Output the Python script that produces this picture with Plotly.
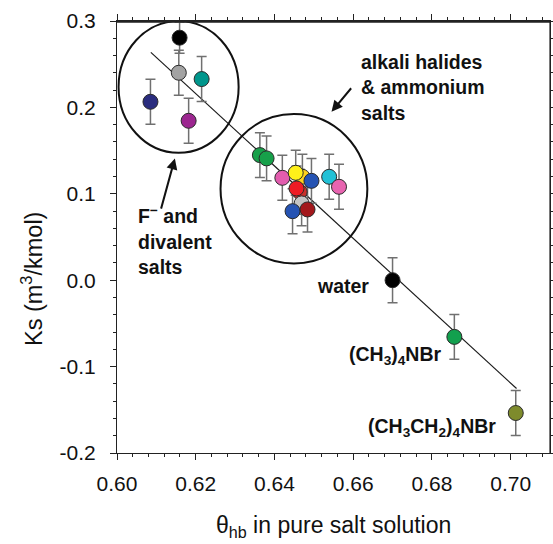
import plotly.graph_objects as go

# ---- data ----
# theta_hb in pure salt solution, Ks (m3/kmol), error
pt_x = [0.6159, 0.6157, 0.6215, 0.6085, 0.6182,
        0.6363, 0.6380, 0.6420, 0.6471, 0.6454, 0.6494, 0.6464, 0.6456,
        0.6469, 0.6446, 0.6484, 0.6539, 0.6564,
        0.6700, 0.6857, 0.7013]
pt_y = [0.2807, 0.2401, 0.2328, 0.2065, 0.1845,
        0.1448, 0.1410, 0.1185, 0.1197, 0.1243, 0.1150, 0.1023, 0.1062,
        0.0889, 0.0799, 0.0819, 0.1197, 0.1081,
        0.0000, -0.0656, -0.1537]
pt_err = [0.018, 0.026, 0.026, 0.026, 0.026,
          0.026, 0.026, 0.026, 0.026, 0.026, 0.026, 0.026, 0.026,
          0.026, 0.026, 0.026, 0.026, 0.026,
          0.026, 0.026, 0.026]
pt_colors = ["#000000", "#a3a3a3", "#00968c", "#2a2c7e", "#9c2690",
             "#17a04a", "#17a04a", "#e25cae", "#ffd21e", "#fff01a", "#2553b3", "#c8302a", "#ee1c24",
             "#c4c4c4", "#2553b3", "#a3181c", "#22c1d6", "#e864b0",
             "#000000", "#12a04e", "#7e8b2c"]

fit_x = [0.6086, 0.7015]
fit_y = [0.2637, -0.1254]

# group ellipses (x0, x1, y0, y1)
group1_box = [0.6004, 0.6309, 0.1475, 0.3000]
group2_box = [0.6263, 0.6636, 0.0194, 0.1923]

x_ticks = [0.60, 0.62, 0.64, 0.66, 0.68, 0.70]
x_tick_text = ["0.60", "0.62", "0.64", "0.66", "0.68", "0.70"]
y_ticks = [-0.2, -0.1, 0.0, 0.1, 0.2, 0.3]
y_tick_text = ["-0.2", "-0.1", "0.0", "0.1", "0.2", "0.3"]

FONT = "Liberation Sans, Arial, sans-serif"
X_RANGE = [0.60, 0.71]
Y_RANGE = [-0.2, 0.3]

fig = go.Figure()

fig.add_trace(go.Scatter(
    x=fit_x, y=fit_y, mode="lines",
    line=dict(color="#1a1a1a", width=1.2),
    hoverinfo="skip", showlegend=False))

fig.add_trace(go.Scatter(
    x=pt_x, y=pt_y, mode="markers",
    marker=dict(size=15, color=pt_colors, line=dict(color="#2a2a2a", width=1)),
    error_y=dict(type="data", array=pt_err, color="#707070", thickness=1.5, width=5),
    showlegend=False))

for box in (group1_box, group2_box):
    fig.add_shape(type="circle", xref="x", yref="y",
                  x0=box[0], x1=box[1], y0=box[2], y1=box[3],
                  line=dict(color="#111111", width=2))

# plot frame: top edge drawn in data units just inside the plot area
fig.add_shape(type="line", xref="x", yref="y", x0=X_RANGE[0], x1=X_RANGE[1],
              y0=Y_RANGE[1] - 0.001, y1=Y_RANGE[1] - 0.001,
              line=dict(color="#222222", width=1.6), layer="above")
fig.add_shape(type="line", xref="paper", yref="paper", x0=1, x1=1, y0=0, y1=1,
              line=dict(color="#222222", width=1.2), layer="above")

bold = dict(family=FONT, size=19.5, color="#111111")

fig.add_annotation(x=0.6616, y=0.2228, xref="x", yref="y",
                   text="<b>alkali halides<br>&amp; ammonium<br>salts</b>",
                   showarrow=False, xanchor="left", yanchor="middle", align="left", font=bold)
fig.add_annotation(x=0.6545, y=0.1950, ax=0.6598, ay=0.2239,
                   xref="x", yref="y", axref="x", ayref="y",
                   text="", showarrow=True, arrowhead=2, arrowsize=1.1,
                   arrowwidth=2, arrowcolor="#111111")

fig.add_annotation(x=0.6049, y=0.0464, xref="x", yref="y",
                   text="<b>F<sup>−</sup> and<br>divalent<br>salts</b>",
                   showarrow=False, xanchor="left", yanchor="middle", align="left", font=bold)
fig.add_annotation(x=0.6147, y=0.1410, ax=0.6111, ay=0.0811,
                   xref="x", yref="y", axref="x", ayref="y",
                   text="", showarrow=True, arrowhead=2, arrowsize=1.1,
                   arrowwidth=2, arrowcolor="#111111")

fig.add_annotation(x=0.6644, y=-0.0069, xref="x", yref="y", text="<b>water</b>",
                   showarrow=False, xanchor="right", yanchor="middle", font=bold)
fig.add_annotation(x=0.6830, y=-0.0868, xref="x", yref="y",
                   text="<b>(CH<sub>3</sub>)<sub>4</sub>NBr</b>",
                   showarrow=False, xanchor="right", yanchor="middle", font=bold)
fig.add_annotation(x=0.6968, y=-0.1702, xref="x", yref="y",
                   text="<b>(CH<sub>3</sub>CH<sub>2</sub>)<sub>4</sub>NBr</b>",
                   showarrow=False, xanchor="right", yanchor="middle", font=bold)

# axis titles
fig.add_annotation(x=0.501, y=-0.171, xref="paper", yref="paper",
                   text="θ<sub>hb</sub> in pure salt solution", showarrow=False,
                   xanchor="center", yanchor="middle",
                   font=dict(family=FONT, size=23, color="#111111"))
fig.add_annotation(x=-0.196, y=0.403, xref="paper", yref="paper",
                   text="Ks (m<sup>3</sup>/kmol)", showarrow=False, textangle=-90,
                   xanchor="center", yanchor="middle",
                   font=dict(family=FONT, size=23.5, color="#111111"))

tickfont = dict(family=FONT, size=21, color="#111111")

fig.update_layout(
    width=553, height=544,
    margin=dict(l=117, r=3, t=21, b=91, autoexpand=False),
    paper_bgcolor="white", plot_bgcolor="white",
    xaxis=dict(range=X_RANGE, tickvals=x_ticks, ticktext=x_tick_text, automargin=False,
               showgrid=False, zeroline=False, showline=True, linecolor="#222222", linewidth=1.2,
               mirror="allticks", ticks="outside", ticklen=6, tickcolor="#222222",
               minor=dict(dtick=0.004, tick0=0.60, ticks="outside", ticklen=3, tickcolor="#222222"),
               tickfont=tickfont, ticklabelstandoff=6),
    yaxis=dict(range=Y_RANGE, tickvals=y_ticks, ticktext=y_tick_text, automargin=False,
               showgrid=False, zeroline=False, showline=True, linecolor="#222222", linewidth=1.2,
               mirror="allticks", ticks="outside", ticklen=6, tickcolor="#222222",
               minor=dict(dtick=0.02, tick0=0.0, ticks="outside", ticklen=3, tickcolor="#222222"),
               tickfont=tickfont, ticklabelstandoff=10),
    showlegend=False,
)

fig.write_html("out.html", config={"displayModeBar": False},
               post_script="document.body.style.margin='0';document.body.style.overflow='hidden';")
